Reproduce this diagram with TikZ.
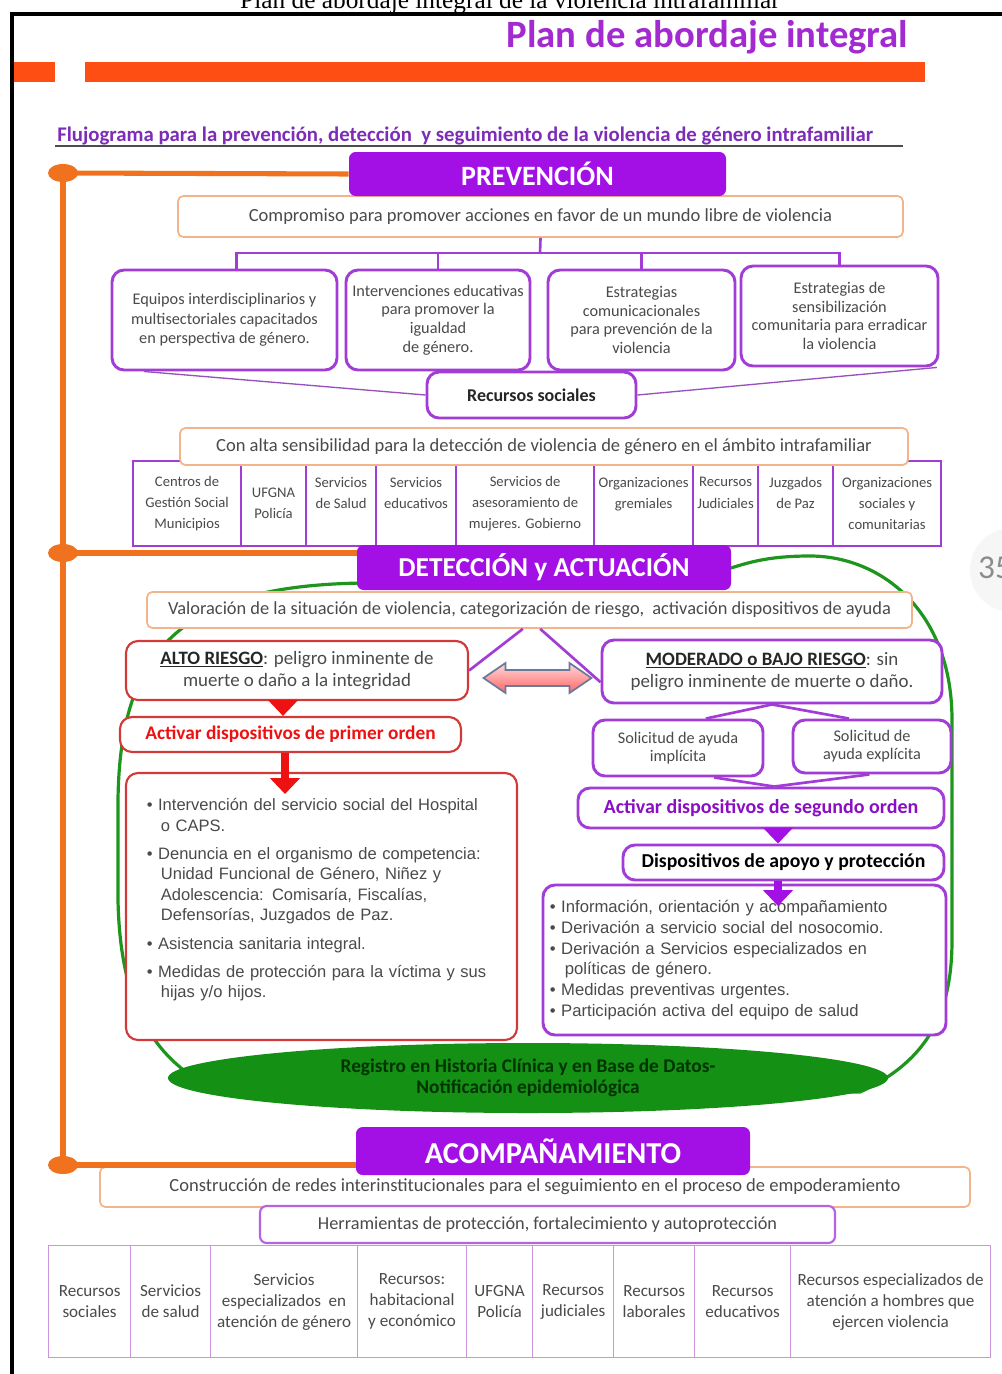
\documentclass[tikz,border=0pt]{standalone}
\usepackage{fontspec}
\setmainfont{Carlito}
\newfontfamily\listfont{Liberation Sans}
\newfontfamily\capfont{Liberation Serif}
\usetikzlibrary{arrows.meta,shapes.geometric}

\definecolor{headpurple}{HTML}{A210E6}
\definecolor{titlepurple}{HTML}{A22AD0}
\definecolor{linepurple}{HTML}{A23CD6}
\definecolor{subpurple}{HTML}{7D2CB8}
\definecolor{barorange}{HTML}{FF4E14}
\definecolor{trunkorange}{HTML}{F0721E}
\definecolor{softorange}{HTML}{F2B48A}
\definecolor{riskred}{HTML}{D23A3A}
\definecolor{arrowred}{HTML}{EE1111}
\definecolor{blobgreen}{HTML}{1E961E}
\definecolor{ellgreen}{HTML}{149014}
\definecolor{textgray}{HTML}{4A4A4A}
\definecolor{cellpurple}{HTML}{CC94DC}
\definecolor{arrowrim}{HTML}{6A7A9A}

\begin{document}
\begin{tikzpicture}[x=0.75pt,y=-0.75pt]

\tikzset{
  sz/.style 2 args={minimum width=#1*0.75pt, minimum height=#2*0.75pt},
  headbox/.style={fill=headpurple, rounded corners=5pt, text=white, inner sep=0pt},
  obox/.style={draw=softorange, line width=1.3pt, rounded corners=4pt, fill=white, text=textgray, inner sep=0pt},
  pbox/.style={draw=linepurple, line width=2.2pt, rounded corners=9pt, fill=white, text=textgray, align=center, inner sep=0pt},
  rbox/.style={draw=riskred, line width=1.6pt, rounded corners=9pt, fill=white, text=textgray, align=center, inner sep=0pt},
  cell/.style={draw=linepurple, line width=1.6pt, anchor=north west, align=center, text=textgray, inner sep=0pt},
  lowcell/.style={draw=cellpurple, line width=0.9pt, anchor=north west, align=center, text=textgray, inner sep=0pt},
  pline/.style={draw=linepurple, line width=2pt},
  thinline/.style={draw=linepurple!70!gray, line width=1pt},
  orangeline/.style={draw=trunkorange, line width=3.8pt},
  dot/.style={ellipse, fill=trunkorange, sz={30}{18}, inner sep=0pt},
  redarrow/.style={draw=arrowred, line width=6pt, -{Triangle[width=22pt,length=12pt]}},
  purplearrow/.style={draw=headpurple, line width=6pt, -{Triangle[width=22pt,length=12pt]}}
}

\clip (0,0) rectangle (1002,1374);
\fill[white] (0,0) rectangle (1002,1374);

\node[anchor=base, font=\capfont\fontsize{19}{22}\selectfont] (cap) at (510,8) {Plan de abordaje integral de la violencia intrafamiliar};
\draw[line width=3pt] (12,1374) -- (12,14) -- (1002,14);

\node[anchor=east, text=titlepurple, font=\bfseries\fontsize{29}{32}\selectfont] (title) at (913,37) {Plan de abordaje integral};
\fill[barorange] (14,62) rectangle (55,82);
\fill[barorange] (85,62) rectangle (925,82);

\node[anchor=base west, inner sep=0pt, text=subpurple, font=\bfseries\fontsize{15.6}{17}\selectfont] (sub) at (57,141) {Flujograma para la prevención, detección\ \ y seguimiento de la violencia de género intrafamiliar};
\draw[black!70, line width=1pt] (55,146) -- (903,146);

\node[dot] (d1) at (63,173) {};
\node[dot] (d2) at (63,553) {};
\node[dot] (d3) at (63,1165) {};
\draw[orangeline, line width=5pt] (d1.center) -- (d3.center);

% prevencion
\node[obox, sz={725}{41}, font=\fontsize{13.9}{15}\selectfont] (comp) at (540.5,216.5) {Compromiso para promover acciones en favor de un mundo libre de violencia};
\node[headbox, sz={377}{44}, font=\bfseries\fontsize{21}{23}\selectfont] (prev) at (537.5,174) {PREVENCIÓN};

\node[pbox, sz={225}{100}, font=\fontsize{12.2}{14.6}\selectfont] (eq) at (224.5,320) {Equipos interdisciplinarios y\\multisectoriales capacitados\\en perspectiva de género.};
\node[pbox, sz={184}{100}, font=\fontsize{12.2}{14}\selectfont] (int) at (438,320) {Intervenciones educativas\\para promover la\\igualdad\\de género.};
\node[pbox, sz={187}{100}, font=\fontsize{12.2}{14}\selectfont] (est) at (641.5,320) {Estrategias\\comunicacionales\\para prevención de la\\violencia};
\node[pbox, sz={197}{100}, font=\fontsize{12.2}{14}\selectfont] (sen) at (839.5,316) {Estrategias de\\sensibilización\\comunitaria para erradicar\\la violencia};

\coordinate (bus) at (540,253);
\draw[pline] (comp.south) -- (bus);
\draw[pline] ([xshift=9pt]eq.north) |- (bus) -| (sen.north);
\draw[pline] (int.north) -- (int.north |- bus);
\draw[pline] (est.north) -- (est.north |- bus);

\node[pbox, sz={209}{46}, text=black!85, font=\bfseries\fontsize{13.5}{15}\selectfont] (recs) at (531.5,395) {Recursos sociales};
\draw[thinline] ([xshift=25pt]eq.south west) -- (recs.west);
\draw[thinline] ([xshift=-2pt]sen.south east) -- (recs.east);

\foreach \x/\w/\t [count=\i] in {132/108/{Centros de\\Gestión Social\\Municipios}, 240/65/{UFGNA\\Policía}, 305/70/{Servicios\\de Salud\\ }, 375/80/{Servicios\\educativos\\ }, 455/138/{Servicios de\\asesoramiento de\\mujeres. Gobierno}, 593/99/{Organizaciones\\gremiales\\ }, 692/65/{Recursos\\Judiciales\\ }, 757/75/{Juzgados\\de Paz\\ }, 832/108/{Organizaciones\\sociales y\\comunitarias}}
  \node[cell, sz={\w}{85}, font=\fontsize{11}{16}\selectfont] (rc\i) at (\x,460) {\t};

\node[obox, sz={728}{37}, font=\fontsize{13.9}{15}\selectfont] (alta) at (544,446.5) {Con alta sensibilidad para la detección de violencia de género en el ámbito intrafamiliar};

% deteccion
\draw[blobgreen, line width=2.4pt] (365,583) .. controls (180,585) and (120,650) .. (118,800) -- (118,900) .. controls (120,1000) and (150,1060) .. (220,1092) -- (860,1092) .. controls (930,1060) and (952,1010) .. (952,940) -- (952,720) .. controls (952,610) and (880,556) .. (810,556) .. controls (770,556) and (750,562) .. (731,568);

\node[headbox, sz={374}{45}, font=\bfseries\fontsize{20.5}{22}\selectfont] (det) at (544,567.5) {DETECCIÓN y ACTUACIÓN};
\node[obox, sz={765}{36}, font=\fontsize{13.8}{15}\selectfont] (valo) at (529.5,610) {Valoración de la situación de violencia, categorización de riesgo,\ \ activación dispositivos de ayuda};

\node[rbox, sz={342}{59}, font=\fontsize{14.2}{16.5}\selectfont] (alto) at (297,670.5) {\textcolor{black!85}{\textbf{\underline{ALTO RIESGO}}}: peligro inminente de\\muerte o daño a la integridad};
\node[pbox, sz={340}{63}, font=\fontsize{14.2}{16.5}\selectfont] (mod) at (772,671.5) {\textcolor{black!85}{\textbf{\underline{MODERADO o BAJO RIESGO}}}: sin\\peligro inminente de muerte o daño.};
\draw[pline] ([xshift=-5pt]valo.south) -- (alto.east);
\draw[pline] ([xshift=8pt]valo.south) -- ([yshift=-8pt]mod.west);
\coordinate (dbl) at (537.5,678);
\draw[arrowrim, line width=1.3pt, top color=red!15, bottom color=red!60!white, shift={(dbl)}] (-54,0) -- (-32,-15) -- (-32,-8) -- (32,-8) -- (32,-15) -- (54,0) -- (32,15) -- (32,8) -- (-32,8) -- (-32,15) -- cycle;

\node[rbox, sz={341}{35}, text=arrowred, font=\bfseries\fontsize{14.5}{16}\selectfont] (act1) at (290.5,734.5) {Activar dispositivos de primer orden};
\node[rbox, sz={391}{267}, text width=262pt, align=left, font=\listfont\fontsize{12.4}{15.3}\selectfont] (lbox) at (321.5,906.5) {\textbullet\ Intervención del servicio social del Hospital\\
\hspace*{0.85em}o CAPS.\\[6pt]
\textbullet\ Denuncia en el organismo de competencia:\\
\hspace*{0.85em}Unidad Funcional de Género, Niñez y\\
\hspace*{0.85em}Adolescencia: Comisaría, Fiscalías,\\
\hspace*{0.85em}Defensorías, Juzgados de Paz.\\[6pt]
\textbullet\ Asistencia sanitaria integral.\\[6pt]
\textbullet\ Medidas de protección para la víctima y sus\\
\hspace*{0.85em}hijas y/o hijos.\\[-3pt]\mbox{}};
\coordinate (lin) at (285,794);
\draw[redarrow] (alto.south -| 283,0) -- (act1.north -| 283,0);
\draw[redarrow] (act1.south -| lin) -- (lin);

\node[pbox, sz={170}{56}, font=\fontsize{12.2}{13.5}\selectfont] (sol1) at (678,748) {Solicitud de ayuda\\implícita};
\node[pbox, sz={158}{53}, font=\fontsize{12.2}{13.5}\selectfont] (sol2) at (872,746.5) {Solicitud de\\ayuda explícita};
\draw[pline] (mod.south) -- ([xshift=-44pt]sol1.north east);
\draw[pline] (mod.south) -- ([xshift=43pt]sol2.north west);

\node[pbox, sz={366}{40}, text=headpurple!85!black, font=\bfseries\fontsize{15}{17}\selectfont] (act2) at (761,808) {Activar dispositivos de segundo orden};
\draw[pline] ([xshift=27pt]sol1.south) -- ([xshift=10pt]act2.north);
\draw[pline] ([xshift=-2pt]sol2.south) -- ([xshift=10pt]act2.north);

\node[pbox, sz={321}{35}, text=black, font=\bfseries\fontsize{14.8}{16}\selectfont] (disp) at (783.5,862.5) {Dispositivos de apoyo y protección};
\node[pbox, sz={403}{150}, text width=292pt, align=left, font=\listfont\fontsize{12.5}{15.6}\selectfont] (rlist) at (744.5,960) {\textbullet\ Información, orientación y acompañamiento\\
\textbullet\ Derivación a servicio social del nosocomio.\\
\textbullet\ Derivación a Servicios especializados en\\
\hspace*{0.9em}políticas de género.\\
\textbullet\ Medidas preventivas urgentes.\\
\textbullet\ Participación activa del equipo de salud};
\coordinate (rin) at (778,906);
\draw[purplearrow] (act2.south -| 778,0) -- (disp.north -| 778,0);
\draw[purplearrow] (disp.south -| rin) -- (rin);

\node[ellipse, fill=ellgreen, sz={720}{70}, inner sep=0pt, align=center, text=black!80!green, font=\bfseries\fontsize{14.5}{16}\selectfont] (reg) at (528,1078) {Registro en Historia Clínica y en Base de Datos-\\Notificación epidemiológica};

% acompanamiento
\node[obox, sz={870}{40}, font=\fontsize{13.9}{15}\selectfont] (cons) at (535,1187) {Construcción de redes interinstitucionales para el seguimiento en el proceso de empoderamiento};
\node[headbox, sz={394}{48}, font=\bfseries\fontsize{22.8}{25}\selectfont] (acomp) at (553,1151) {ACOMPAÑAMIENTO};
\node[pbox, draw=linepurple!80, line width=1.6pt, rounded corners=5pt, sz={575}{37}, font=\fontsize{13.7}{15}\selectfont] (herr) at (547.5,1224.5) {Herramientas de protección, fortalecimiento y autoprotección};

\foreach \x/\w/\t [count=\i] in {48/82/{Recursos\\sociales}, 130/80/{Servicios\\de salud}, 210/147/{Servicios\\especializados\ \ en\\atención de género}, 357/109/{Recursos:\\habitacional\\y económico}, 466/66/{UFGNA\\Policía}, 532/81/{Recursos\\judiciales}, 613/81/{Recursos\\laborales}, 694/96/{Recursos\\educativos}, 790/200/{Recursos especializados de\\atención a hombres que\\ejercen violencia}}
  \node[lowcell, sz={\w}{112}, font=\fontsize{12.8}{15.75}\selectfont] (bc\i) at (\x,1245) {\t};

\draw[orangeline] (d1.center) -- (prev.west);
\draw[orangeline] (d2.center) -- (d2 -| det.west);
\draw[orangeline] (d3.center) -- (d3 -| acomp.west);

\fill[gray!7] (1012,570) circle (42);
\node[text=gray!90, font=\fontsize{25}{28}\selectfont] (pg) at (995,568) {35};

\end{tikzpicture}
\end{document}
